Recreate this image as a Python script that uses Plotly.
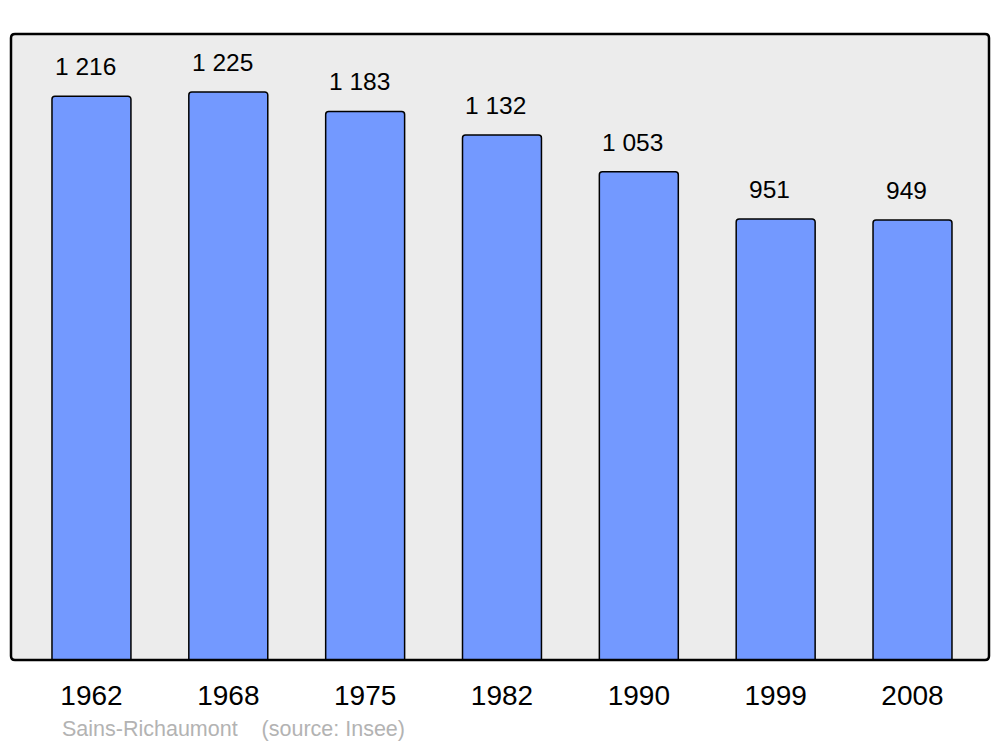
import plotly.graph_objects as go

years = ["1962", "1968", "1975", "1982", "1990", "1999", "2008"]
population = [1216, 1225, 1183, 1132, 1053, 951, 949]
value_labels = ["1 216", "1 225", "1 183", "1 132", "1 053", "951", "949"]
caption = "Sains-Richaumont    (source: Insee)"

# page has an 8px body margin, compensate
W, H = 992, 739
ml, mr, mt, mb = 3, 11, 26, 87
pw, ph = W - ml - mr, H - mt - mb

fig = go.Figure()
fig.add_trace(go.Bar(
    x=years, y=population, width=0.577,
    marker=dict(color="#7399ff", line=dict(color="#000000", width=1.5)),
    hoverinfo="skip",
))

for i, (v, lab) in enumerate(zip(population, value_labels)):
    fig.add_annotation(x=i, y=v, text=lab, showarrow=False, xanchor="center",
                       yanchor="bottom", xshift=-6, yshift=14,
                       font=dict(family="Liberation Sans, Arial", size=24.5, color="#000000"))

fig.add_annotation(xref="paper", yref="paper", x=(60 - 11) / pw, y=(660 - 729) / ph,
                   text=caption, showarrow=False, xanchor="left", yanchor="middle",
                   font=dict(family="Liberation Sans, Arial", size=21.5, color="#b3b3b3"))

# rounded border of plot area
rx, ry = 4 / pw, 4 / ph
path = (f"M {rx},0 L {1-rx},0 Q 1,0 1,{ry} L 1,{1-ry} Q 1,1 {1-rx},1 "
        f"L {rx},1 Q 0,1 0,{1-ry} L 0,{ry} Q 0,0 {rx},0 Z")
fig.add_shape(type="path", xref="paper", yref="paper", path=path,
              line=dict(color="#000000", width=2.5), layer="above")

fig.update_layout(
    width=W, height=H, margin=dict(l=ml, r=mr, t=mt, b=mb),
    paper_bgcolor="#ffffff", plot_bgcolor="#ececec",
    barcornerradius=3, showlegend=False,
    xaxis=dict(type="category", range=[-0.588, 6.559], showgrid=False, zeroline=False,
               showline=False, ticks="", ticklabelstandoff=16,
               tickfont=dict(family="Liberation Sans, Arial", size=28, color="#000000")),
    yaxis=dict(range=[0, 1350], showgrid=False, zeroline=False, showline=False,
               showticklabels=False, ticks=""),
)

fig.write_html("out.html")
